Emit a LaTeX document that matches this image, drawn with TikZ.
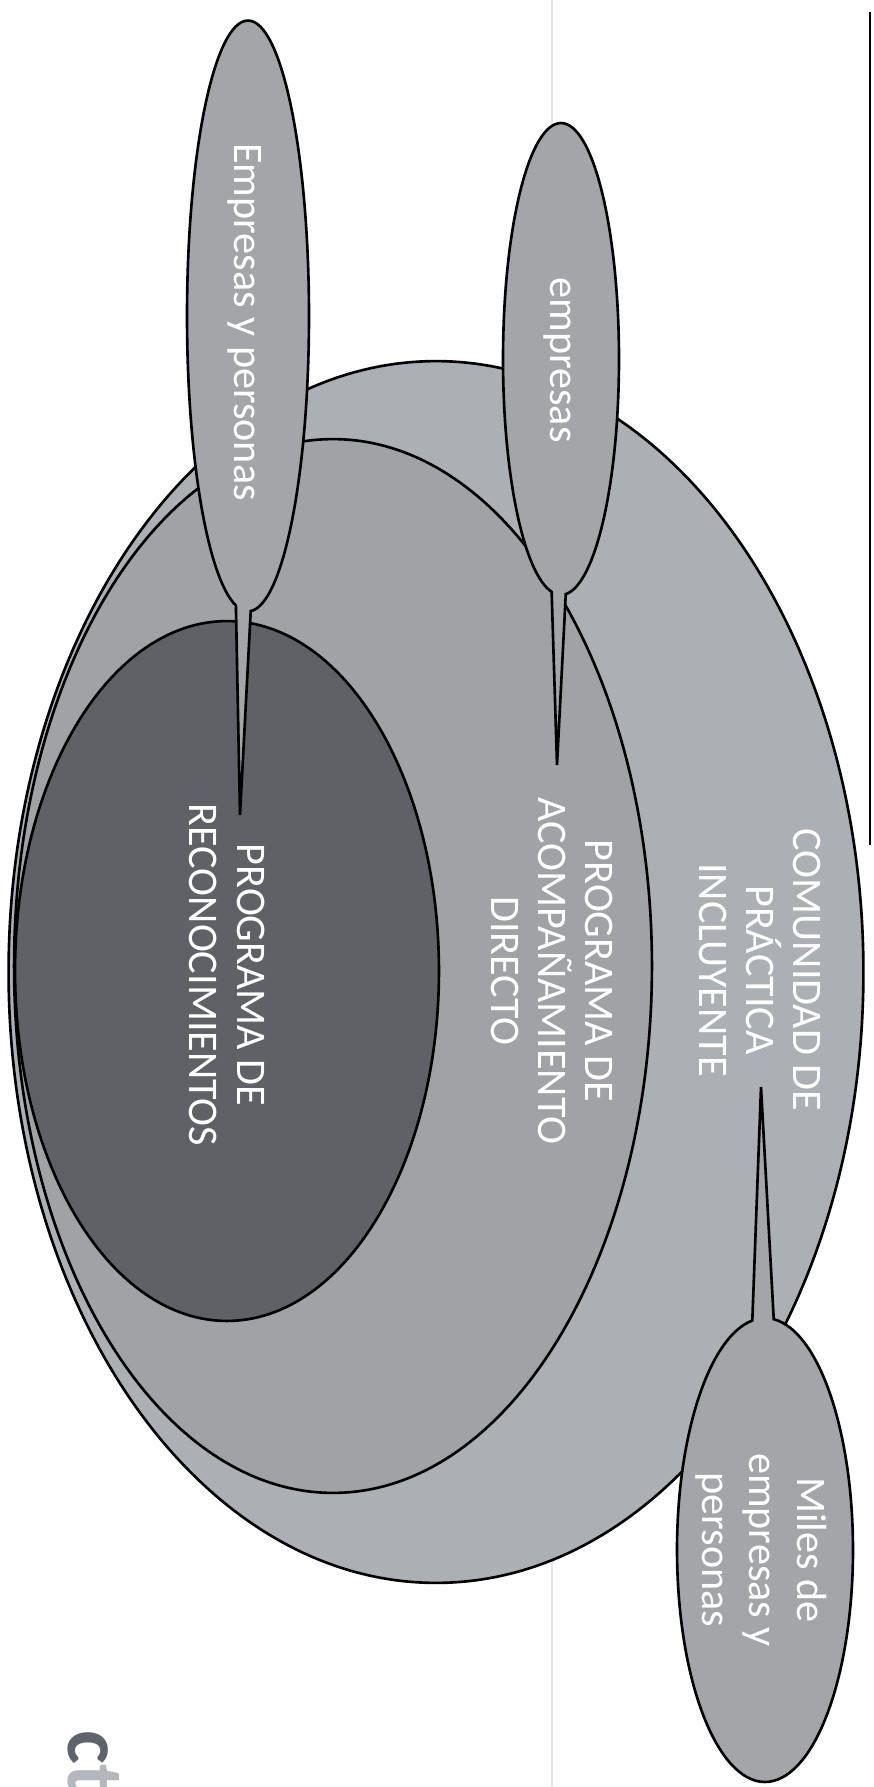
\documentclass[tikz,border=0pt]{standalone}
\usepackage{fontspec}
\setmainfont{Carlito}
\usetikzlibrary{shapes.geometric,shapes.callouts}
\definecolor{zonaclara}{RGB}{172,175,179}
\definecolor{zonamedia}{RGB}{160,162,166}
\definecolor{zonaoscura}{RGB}{95,97,103}
\definecolor{globogris}{RGB}{163,165,169}
\definecolor{logoosc}{RGB}{95,100,108}
\definecolor{logoclaro}{RGB}{180,183,187}

\begin{document}
\begin{tikzpicture}[x=0.02cm,y=-0.02cm,
  zona/.style={ellipse,draw=black,line width=1.5pt,inner sep=0pt},
  globo/.style={ellipse callout,draw=black,line width=1.5pt,fill=globogris,inner sep=0pt,callout pointer arc=14},
  texto/.style={rotate=-90,text=white,align=center,font=\fontsize{24}{27}\selectfont}]
\useasboundingbox (0,0) rectangle (874,1787);
\clip (0,0) rectangle (874,1787);
\draw[black!10,line width=1pt] (552,0) -- (552,1787);
\draw[line width=1.2pt] (870,12) -- (870,845);
% las tres zonas
\node[zona,fill=zonaclara,minimum width=17.1cm,minimum height=24.44cm] (comunidad) at (436,972) {};
\node[zona,fill=zonamedia,minimum width=12.76cm,minimum height=21.08cm] (acomp) at (333,966) {};
\node[zona,fill=zonaoscura,minimum width=8.48cm,minimum height=14cm] (recono) at (227,971) {};
\node[texto] (recotxt) at (227,975) {PROGRAMA DE\\RECONOCIMIENTOS};
\node[texto] (acomptxt) at (552,971) {PROGRAMA DE\\ACOMPAÑAMIENTO\\DIRECTO};
\node[texto] (comtxt) at (760,970) {COMUNIDAD DE\\PRÁCTICA\\INCLUYENTE};
% globos
\coordinate (tipreco) at (240,815);
\coordinate (tipacomp) at (557,765);
\coordinate (tipcom) at (761,1087);
\node[globo,minimum width=2.44cm,minimum height=11.82cm,callout absolute pointer={(tipreco)}] (personas) at (248,316) {};
\node[globo,minimum width=2.32cm,minimum height=9.44cm,callout absolute pointer={(tipacomp)}] (empresas) at (561,359) {};
\node[globo,minimum width=3.52cm,minimum height=9.28cm,callout absolute pointer={(tipcom)}] (miles) at (765,1550) {};
\node[texto] (personastxt) at (245,322) {Empresas y personas};
\node[texto] (empresastxt) at (557,360) {empresas};
\node[texto] (milestxt) at (761,1550) {Miles de\\empresas y\\personas};
% logo
\node[rotate=-90,anchor=base west,inner sep=0pt,font=\fontsize{46}{46}\selectfont\bfseries] (logo) at (68,1730) {\textcolor{logoosc}{c}\textcolor{logoclaro}{t}};
\end{tikzpicture}
\end{document}
